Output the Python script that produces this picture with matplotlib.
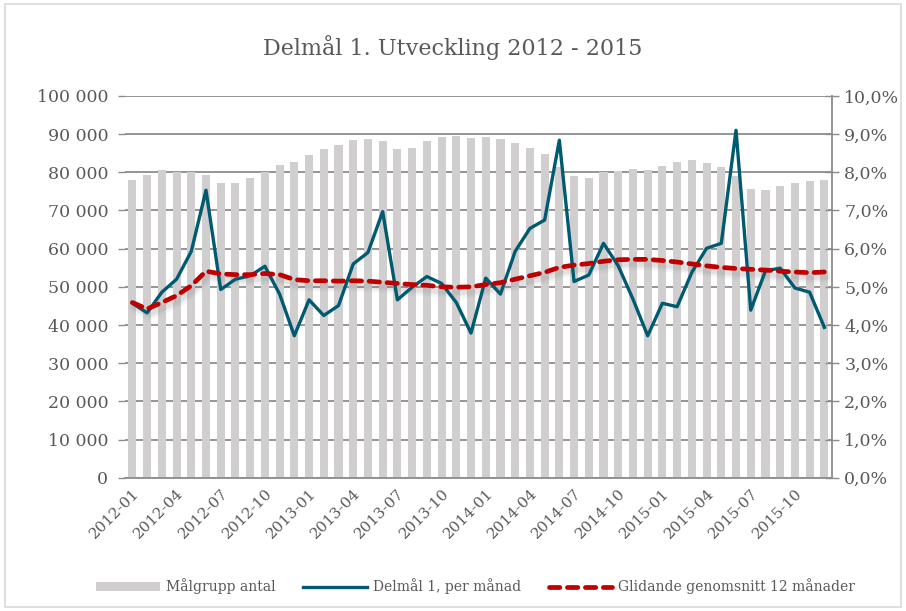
import numpy as np
import matplotlib
matplotlib.use('Agg')
import matplotlib.pyplot as plt
import matplotlib.transforms as mtransforms
from matplotlib.ticker import FuncFormatter, MultipleLocator
from matplotlib.patches import Rectangle

months = ['{}-{:02d}'.format(y, m) for y in range(2012, 2016) for m in range(1, 13)]

# Målgrupp antal (left axis)
malgrupp = [78000, 79300, 80600, 80000, 80000, 79400, 77100, 77100, 78600, 80200, 82000, 82700,
            84400, 86100, 87200, 88400, 88800, 88200, 86100, 86400, 88100, 89200, 89600, 89000,
            89300, 88800, 87700, 86400, 84700, 81500, 79100, 78500, 80000, 80400, 80800, 80600,
            81600, 82800, 83300, 82500, 81300, 79000, 75500, 75400, 76300, 77200, 77800, 77900]

# Delmål 1, per månad (right axis, %)
delmal = [4.57, 4.32, 4.86, 5.20, 5.93, 7.53, 4.93, 5.20, 5.29, 5.54, 4.81, 3.72,
          4.66, 4.25, 4.51, 5.60, 5.90, 6.97, 4.66, 4.99, 5.27, 5.09, 4.59, 3.79,
          5.23, 4.81, 5.93, 6.53, 6.75, 8.84, 5.14, 5.31, 6.14, 5.55, 4.68, 3.72,
          4.57, 4.48, 5.38, 6.01, 6.14, 9.10, 4.39, 5.42, 5.49, 4.97, 4.86, 3.94]

# Glidande genomsnitt 12 månader (right axis, %)
glidande = [4.59, 4.42, 4.59, 4.77, 5.03, 5.41, 5.34, 5.32, 5.32, 5.35, 5.32, 5.19,
            5.16, 5.16, 5.15, 5.16, 5.15, 5.12, 5.09, 5.06, 5.04, 5.00, 4.99, 5.00,
            5.06, 5.11, 5.20, 5.29, 5.38, 5.51, 5.57, 5.61, 5.67, 5.71, 5.72, 5.72,
            5.69, 5.65, 5.60, 5.55, 5.51, 5.48, 5.46, 5.44, 5.41, 5.39, 5.37, 5.39]

title = 'Delmål 1. Utveckling 2012 - 2015'
text_color = '#595959'
grid_color = '#8c8c8c'

plt.rcParams['font.family'] = ['DejaVu Serif']
plt.rcParams['text.color'] = text_color
plt.rcParams['xtick.color'] = grid_color
plt.rcParams['ytick.color'] = grid_color
plt.rcParams['xtick.labelcolor'] = text_color
plt.rcParams['ytick.labelcolor'] = text_color

fig = plt.figure(figsize=(9.06, 6.11), dpi=100)
fig.patches.append(Rectangle((0.006, 0.006), 0.988, 0.988, transform=fig.transFigure,
                             fill=False, edgecolor='#d9d9d9', linewidth=1.2))

ax = fig.add_axes([0.138, 0.218, 0.780, 0.625])
ax2 = ax.twinx()

x = np.arange(len(months))
bars = ax.bar(x, malgrupp, width=0.55, color='#d0cece', label='Målgrupp antal', zorder=2)

ax.set_ylim(0, 100000)
ax.set_xlim(-0.5, len(months) - 0.5)
ax.yaxis.set_major_locator(MultipleLocator(10000))
ax.yaxis.set_major_formatter(FuncFormatter(lambda v, p: '{:,.0f}'.format(v).replace(',', ' ')))
ax.grid(axis='y', color=grid_color, linewidth=1.3, zorder=0)
ax.set_axisbelow(True)
for s in ['top', 'left', 'right']:
    ax.spines[s].set_visible(False)
ax.spines['bottom'].set_color(grid_color)
ax.spines['bottom'].set_linewidth(1.3)
ax.tick_params(axis='y', length=5, width=1, labelsize=12.5, pad=7)
ax.tick_params(axis='x', length=0, labelsize=11, pad=6)
ax.set_xticks(x[::3])
ax.set_xticklabels(months[::3], rotation=45, ha='right', rotation_mode='anchor')

line1, = ax2.plot(x, delmal, color='#005a70', linewidth=2.4, label='Delmål 1, per månad', zorder=4)

# soft shadow under the moving average
shadow_tr = mtransforms.offset_copy(ax2.transData, fig=fig, x=1.5, y=-3.5, units='points')
for w, a in [(9, 0.06), (6, 0.08), (3.5, 0.10)]:
    ax2.plot(x, glidande, color='#808080', linewidth=w, alpha=a, transform=shadow_tr,
             solid_capstyle='round', zorder=3)
line2, = ax2.plot(x, glidande, color='#c00000', linewidth=3.4, linestyle=(0, (2.2, 1.6)),
                  dash_capstyle='round', label='Glidande genomsnitt 12 månader', zorder=5)
ax2.set_ylim(0, 10)
ax2.yaxis.set_major_locator(MultipleLocator(1))
ax2.yaxis.set_major_formatter(FuncFormatter(lambda v, p: '{:.1f}%'.format(v).replace('.', ',')))
ax2.tick_params(axis='y', direction='inout', length=10, width=1, labelsize=12.5, pad=4)
for s in ['top', 'left', 'bottom']:
    ax2.spines[s].set_visible(False)
ax2.spines['right'].set_color(grid_color)
ax2.spines['right'].set_linewidth(1.3)

fig.text(0.5, 0.922, title, ha='center', va='center', fontsize=16, color=text_color)

fig.legend([bars, line1, line2], ['Målgrupp antal', 'Delmål 1, per månad', 'Glidande genomsnitt 12 månader'],
           loc='center', bbox_to_anchor=(0.525, 0.04), ncol=3, frameon=False, fontsize=10,
           handlelength=4.6, columnspacing=2.0, handletextpad=0.4)

fig.savefig('out.png', dpi=100)
